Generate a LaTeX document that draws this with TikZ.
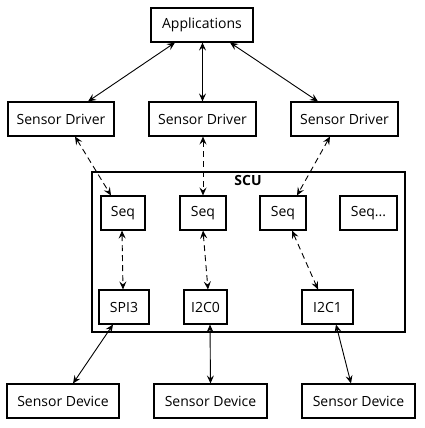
\documentclass[tikz,border=0pt]{standalone}
\usepackage{fontspec}
\setmainfont{Open Sans}
\usetikzlibrary{arrows.meta,positioning}
\begin{document}
\begin{tikzpicture}[x=1pt,y=-1pt,
  box/.style={draw,line width=1.1pt,inner sep=0pt,font=\fontsize{14}{16}\selectfont},
  link/.style={line width=0.9pt,{Stealth[length=8pt,width=7pt,inset=3pt]}-{Stealth[length=8pt,width=7pt,inset=3pt]}},
  dlink/.style={link,dash pattern=on 6pt off 4pt}]
\useasboundingbox (0,0) rectangle (425,428);
\fill[white] (0,0) rectangle (425,428);
\node[box,minimum width=313pt,minimum height=160pt] (scu) at (248.5,252) {};
\node[font=\fontsize{14}{16}\selectfont\bfseries] (scul) at (248,180) {SCU};
\node[box,minimum width=102pt,minimum height=34pt] (app) at (202,25) {Applications};
\node[box,minimum width=106pt,minimum height=34pt] (sd1) at (61,119) {Sensor Driver};
\node[box,minimum width=107pt,minimum height=34pt] (sd2) at (202.5,119) {Sensor Driver};
\node[box,minimum width=107pt,minimum height=34pt] (sd3) at (344.5,119) {Sensor Driver};
\node[box,minimum width=44pt,minimum height=34pt] (seq1) at (123,213) {Seq};
\node[box,minimum width=46pt,minimum height=34pt] (seq2) at (203,213) {Seq};
\node[box,minimum width=46pt,minimum height=34pt] (seq3) at (283,213) {Seq};
\node[box,minimum width=57pt,minimum height=34pt] (seq4) at (368.5,213) {Seq...};
\node[box,minimum width=50pt,minimum height=34pt] (spi3) at (124,307) {SPI3};
\node[box,minimum width=43pt,minimum height=34pt] (i2c0) at (205.5,307) {I2C0};
\node[box,minimum width=51pt,minimum height=34pt] (i2c1) at (327.5,307) {I2C1};
\node[box,minimum width=112pt,minimum height=34pt] (dev1) at (63,401) {Sensor Device};
\node[box,minimum width=113pt,minimum height=34pt] (dev2) at (210.5,401) {Sensor Device};
\node[box,minimum width=113pt,minimum height=34pt] (dev3) at (358.5,401) {Sensor Device};
\draw[link] ([xshift=-27pt]app.south) -- ([xshift=27pt]sd1.north);
\draw[link] ([xshift=0.5pt]app.south) -- (sd2.north);
\draw[link] ([xshift=28pt]app.south) -- ([xshift=-26.5pt]sd3.north);
\draw[dlink] ([xshift=14pt]sd1.south) -- ([xshift=-12pt]seq1.north);
\draw[dlink] ([xshift=0.5pt]sd2.south) -- (seq2.north);
\draw[dlink] ([xshift=-14.5pt]sd3.south) -- ([xshift=14pt]seq3.north);
\draw[dlink] ([xshift=-1pt]seq1.south) -- ([xshift=-1pt]spi3.north);
\draw[dlink] (seq2.south) -- ([xshift=2.5pt]i2c0.north);
\draw[dlink] ([xshift=9pt]seq3.south) -- ([xshift=-9.5pt]i2c1.north);
\draw[link] ([xshift=-11pt]spi3.south) -- ([xshift=10pt]dev1.north);
\draw[link] ([xshift=4.5pt]i2c0.south) -- (dev2.north);
\draw[link] ([xshift=8.5pt]i2c1.south) -- ([xshift=-7.5pt]dev3.north);
\end{tikzpicture}
\end{document}
